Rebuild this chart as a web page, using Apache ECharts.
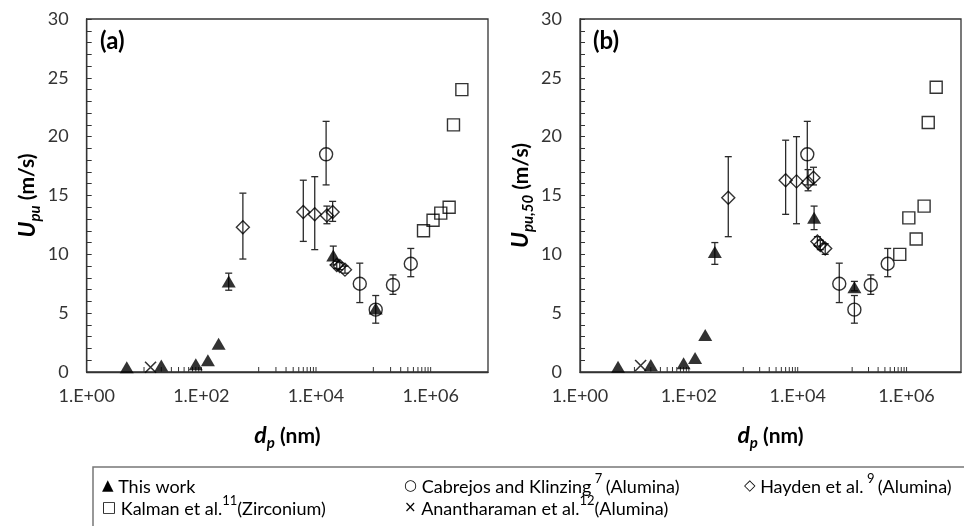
<!DOCTYPE html>
<html>
<head>
<meta charset="utf-8">
<script src="https://cdn.jsdelivr.net/npm/echarts@6/dist/echarts.min.js"></script>
<style>
  html, body { margin: 0; padding: 0; background: #fff; }
  #chart { width: 964px; height: 526px; }
</style>
</head>
<body>
<div id="chart"></div>
<script>
const FONT = 'Lato, "DejaVu Sans", sans-serif'
const INK = '#333'

// x axis (log, nm) tick labels and minor ticks
const xLabelExps = [0, 2, 4, 6]
const xLabelText = ['1.E+00', '1.E+02', '1.E+04', '1.E+06']
const xMinorTicks = [
  10, 20, 30, 40, 50, 60, 70, 80, 90, 100,
  1000, 2000, 3000, 4000, 5000, 6000, 7000, 8000, 9000, 10000,
  1e5, 2e5, 3e5, 4e5, 5e5, 6e5, 7e5, 8e5, 9e5, 1e6,
]

// This work
const workX = [5, 20, 80, 130, 200, 300, 2.0e4, 1.1e5]
const workA = [0.4, 0.55, 0.65, 1.0, 2.4, 7.7, 9.9, 5.4]
const workALow = [null, null, null, null, null, 6.95, 9.1, null]
const workAHigh = [null, null, null, null, null, 8.4, 10.7, null]
const workB = [0.45, 0.6, 0.75, 1.2, 3.15, 10.2, 13.1, 7.2]
const workBLow = [null, null, null, null, null, 9.15, 12.1, 6.9]
const workBHigh = [null, null, null, null, null, 11.0, 14.1, 7.7]

// Cabrejos and Klinzing (same in both panels)
const cabX = [1.5e4, 5.8e4, 1.1e5, 2.2e5, 4.5e5]
const cabY = [18.5, 7.5, 5.3, 7.4, 9.2]
const cabLow = [15.9, 5.9, 4.15, 6.6, 8.1]
const cabHigh = [21.3, 9.25, 6.5, 8.25, 10.5]

// Hayden et al.
const haydX = [530, 6.0e3, 9.5e3, 1.55e4, 1.95e4, 2.3e4, 2.6e4, 3.2e4]
const haydA = [12.3, 13.6, 13.4, 13.3, 13.6, 9.1, 9.0, 8.7]
const haydALow = [9.6, 11.1, 10.4, 12.6, 12.8, 8.8, 8.7, 8.4]
const haydAHigh = [15.2, 16.3, 16.6, 14.1, 14.5, 9.4, 9.3, 9.0]
const haydB = [14.8, 16.3, 16.2, 16.1, 16.5, 11.1, 10.8, 10.5]
const haydBLow = [11.5, 13.4, 12.6, 15.4, 15.9, 10.7, 10.4, 10.0]
const haydBHigh = [18.3, 19.7, 20.0, 17.2, 17.4, 11.5, 11.2, 10.9]

// Kalman et al.
const kalX = [7.5e5, 1.1e6, 1.5e6, 2.1e6, 2.5e6, 3.5e6]
const kalA = [12.0, 12.9, 13.5, 14.0, 21.0, 24.0]
const kalB = [10.0, 13.1, 11.3, 14.1, 21.2, 24.2]

// Anantharaman et al.
const anaX = [13]
const anaA = [0.4]
const anaB = [0.55]

const pairs = (xs, ys) => xs.map((x, i) => [x, ys[i]])
const errs = (xs, lo, hi) =>
  xs.map((x, i) => [x, lo[i], hi[i]]).filter((d) => d[1] != null)

function renderErr(params, api) {
  const top = api.coord([api.value(0), api.value(2)])
  const bot = api.coord([api.value(0), api.value(1)])
  const c = 3.5
  const st = { stroke: '#2a2a2a', lineWidth: 1.3 }
  return {
    type: 'group',
    children: [
      { type: 'line', shape: { x1: top[0], y1: top[1], x2: bot[0], y2: bot[1] }, style: st },
      { type: 'line', shape: { x1: top[0] - c, y1: top[1], x2: top[0] + c, y2: top[1] }, style: st },
      { type: 'line', shape: { x1: bot[0] - c, y1: bot[1], x2: bot[0] + c, y2: bot[1] }, style: st },
    ],
  }
}

function renderTick(params, api) {
  const p = api.coord([api.value(0), 0])
  return {
    type: 'line',
    shape: { x1: p[0], y1: p[1], x2: p[0], y2: p[1] - 5 },
    style: { stroke: INK, lineWidth: 1 },
  }
}

const hollow = { color: 'rgba(0,0,0,0)', borderColor: '#000', borderWidth: 1.4 }
const crossPath = 'path://M0,0L10,10M10,0L0,10'

function panelSeries(i, wY, wLo, wHi, hY, hLo, hHi, kY, aY) {
  const ax = { xAxisIndex: i, yAxisIndex: i, silent: true, animation: false }
  return [
    { ...ax, type: 'custom', renderItem: renderTick, data: xMinorTicks.map((v) => [v, 0]), encode: { x: 0, y: 1 }, z: 1 },
    { ...ax, type: 'custom', renderItem: renderErr, data: errs(cabX, cabLow, cabHigh), encode: { x: 0, y: [1, 2] }, z: 2 },
    { ...ax, type: 'custom', renderItem: renderErr, data: errs(haydX, hLo, hHi), encode: { x: 0, y: [1, 2] }, z: 2 },
    { ...ax, type: 'custom', renderItem: renderErr, data: errs(workX, wLo, wHi), encode: { x: 0, y: [1, 2] }, z: 2 },
    { ...ax, type: 'scatter', name: 'Cabrejos', data: pairs(cabX, cabY), symbol: 'circle', symbolSize: 13, itemStyle: hollow, z: 3 },
    { ...ax, type: 'scatter', name: 'Hayden', data: pairs(haydX, hY), symbol: 'diamond', symbolSize: [13, 13], itemStyle: hollow, z: 3 },
    { ...ax, type: 'scatter', name: 'Kalman', data: pairs(kalX, kY), symbol: 'rect', symbolSize: 12, itemStyle: hollow, z: 3 },
    { ...ax, type: 'scatter', name: 'Anantharaman', data: pairs(anaX, aY), symbol: crossPath, symbolSize: 11, itemStyle: { color: 'rgba(0,0,0,0)', borderColor: '#000', borderWidth: 1.6 }, z: 3 },
    { ...ax, type: 'scatter', name: 'This work', data: pairs(workX, wY), symbol: 'triangle', symbolSize: [14, 12], itemStyle: { color: '#000' }, z: 4 },
  ]
}

const nameRich = {
  i: { fontFamily: FONT, fontStyle: 'italic', fontWeight: 'bold', fontSize: 23, color: '#000', lineHeight: 30, verticalAlign: 'middle' },
  sub: { fontFamily: FONT, fontStyle: 'italic', fontWeight: 'bold', fontSize: 15, color: '#000', lineHeight: 30, verticalAlign: 'bottom' },
  b: { fontFamily: FONT, fontWeight: 'bold', fontSize: 21, color: '#000', lineHeight: 30, verticalAlign: 'middle' },
}

function xAxis(i) {
  return {
    type: 'log', logBase: 10, min: 1, max: 1e7, gridIndex: i,
    axisLine: { lineStyle: { color: INK, width: 1.3 } },
    axisTick: { show: false },
    minorTick: { show: false },
    splitLine: { show: false },
    axisLabel: {
      fontFamily: FONT, fontSize: 18, color: INK, margin: 15,
      formatter: (v) => {
        const k = xLabelExps.indexOf(Math.round(Math.log10(v)))
        return k >= 0 ? xLabelText[k] : ''
      },
    },
    name: '{i|d}{sub|p}{b| (nm)}', nameLocation: 'middle', nameGap: 49,
    nameTextStyle: { rich: nameRich },
  }
}

function yAxis(i, name) {
  return {
    type: 'value', min: 0, max: 30, interval: 5, gridIndex: i,
    axisLine: { show: true, lineStyle: { color: INK, width: 1.3 } },
    axisTick: { show: true, inside: true, length: 5, lineStyle: { color: INK } },
    minorTick: { show: true, splitNumber: 5, length: 5, lineStyle: { color: INK } },
    splitLine: { show: false },
    axisLabel: { fontFamily: FONT, fontSize: 18, color: INK, margin: 18 },
    name, nameLocation: 'middle', nameRotate: 90, nameGap: 44,
    nameTextStyle: { rich: nameRich },
  }
}

const legendRich = {
  t: { fontFamily: FONT, fontSize: 18, color: '#222', lineHeight: 24, verticalAlign: 'bottom' },
  s: { fontFamily: '"DejaVu Sans"', fontSize: 15, color: '#222', lineHeight: 24, verticalAlign: 'bottom', padding: [0, 0, 2, 0] },
  sup: { fontFamily: FONT, fontSize: 13, color: '#222', lineHeight: 24, verticalAlign: 'top' },
}
const legendItems = [
  { x: 102, y: 484, text: '{s|▲}{t| This work}' },
  { x: 404, y: 484, text: '{s|○}{t| Cabrejos and Klinzing}{sup| 7} {t|(Alumina)}' },
  { x: 744, y: 484, text: '{s|◇}{t| Hayden et al.}{sup| 9} {t|(Alumina)}' },
  { x: 102, y: 506, text: '{s|□}{t| Kalman et al.}{sup|11}{t|(Zirconium)}' },
  { x: 404, y: 506, text: '{s|×}{t| Anantharaman et al.}{sup|12}{t|(Alumina)}' },
]

const chart = echarts.init(document.getElementById('chart'), null, { renderer: 'canvas' })
chart.setOption({
  animation: false,
  backgroundColor: '#fff',
  grid: [
    { left: 86.7, top: 19, width: 401.3, height: 353, show: true, borderColor: INK, borderWidth: 1.3, containLabel: false },
    { left: 580, top: 19, width: 389, height: 353, show: true, borderColor: INK, borderWidth: 1.3, containLabel: false },
  ],
  xAxis: [xAxis(0), xAxis(1)],
  yAxis: [
    yAxis(0, '{i|U}{sub|pu}{b| (m/s)}'),
    yAxis(1, '{i|U}{sub|pu,50}{b| (m/s)}'),
  ],
  series: [
    ...panelSeries(0, workA, workALow, workAHigh, haydA, haydALow, haydAHigh, kalA, anaA),
    ...panelSeries(1, workB, workBLow, workBHigh, haydB, haydBLow, haydBHigh, kalB, anaB),
  ],
  graphic: [
    { type: 'text', left: 100, top: 29, style: { text: '(a)', font: 'bold 24px ' + FONT, fill: '#000' } },
    { type: 'text', left: 593, top: 29, style: { text: '(b)', font: 'bold 24px ' + FONT, fill: '#000' } },
    { type: 'rect', shape: { x: 93, y: 467, width: 900, height: 100 }, style: { fill: 'none', stroke: '#777', lineWidth: 1.5 } },
    ...legendItems.map((it) => ({
      type: 'text', x: it.x, y: it.y,
      style: { text: it.text, rich: legendRich, verticalAlign: 'middle', align: 'left' },
    })),
  ],
})
</script>
</body>
</html>
